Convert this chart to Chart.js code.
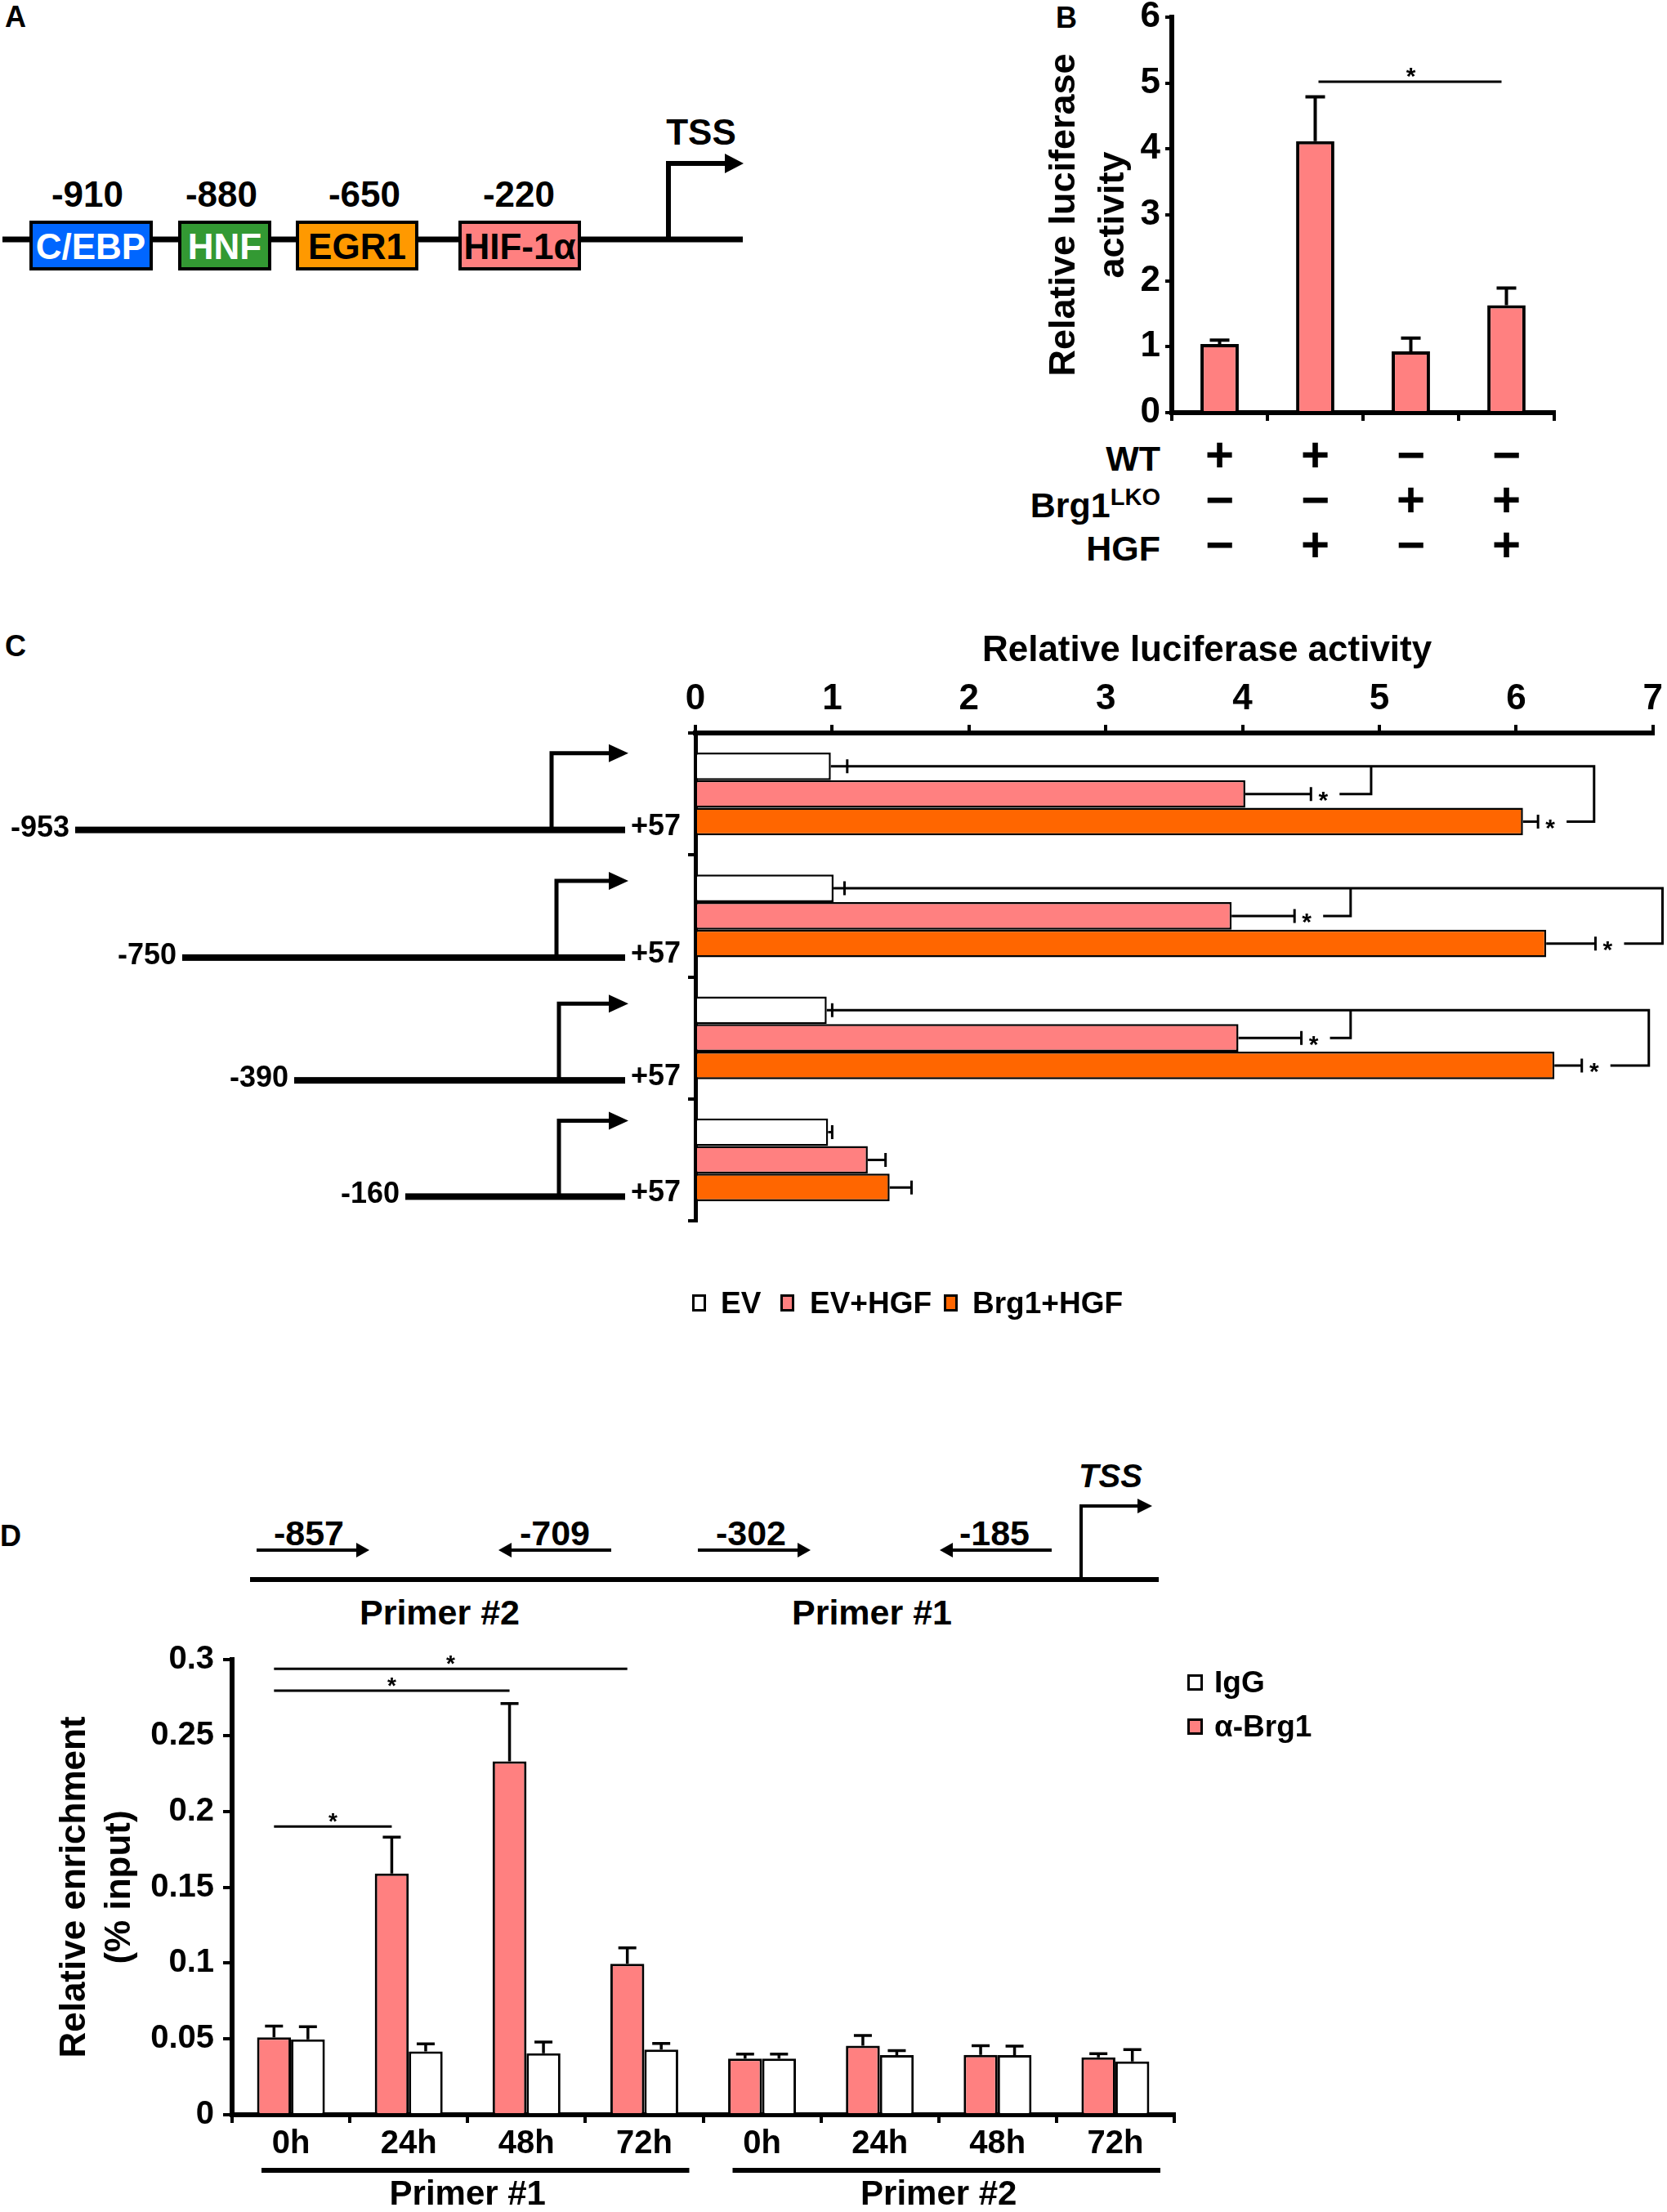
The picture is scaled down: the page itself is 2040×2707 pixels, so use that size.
<!DOCTYPE html>
<html>
<head>
<meta charset="utf-8">
<title>Brg1 / HIF-1α promoter figure</title>
<script src="https://cdn.jsdelivr.net/npm/chart.js@4.4.1/dist/chart.umd.min.js"></script>
<style>
  html, body { margin:0; padding:0; background:#fff; }
  body { position:relative; width:2040px; height:2707px; overflow:hidden;
         font-family:'Liberation Sans', Arial, Helvetica, sans-serif; font-weight:bold; color:#000; }
  canvas, svg, .t, .sw { position:absolute; }
  .t { white-space:nowrap; }
  .sw { border:3px solid #000; box-sizing:border-box; }
</style>
</head>
<body>

<svg id="diagrams" style="left:0;top:0" width="2040" height="2707"
     font-family="'Liberation Sans', Arial, Helvetica, sans-serif" font-weight="bold">
  <!-- panel letters -->
  <text x="6" y="33" font-size="36">A</text>
  <text x="1292" y="34" font-size="36">B</text>
  <text x="6" y="803" font-size="36">C</text>
  <text x="0" y="1892" font-size="36">D</text>

  <!-- Panel A : promoter schematic -->
  <line x1="3" y1="293" x2="909" y2="293" stroke="#000" stroke-width="7"/>
  <rect x="38"  y="272" width="147" height="57" fill="#0066FF" stroke="#000" stroke-width="4"/>
  <rect x="220" y="272" width="110" height="57" fill="#339933" stroke="#000" stroke-width="4"/>
  <rect x="364" y="272" width="146" height="57" fill="#FF9900" stroke="#000" stroke-width="4"/>
  <rect x="563" y="272" width="146" height="57" fill="#FF8080" stroke="#000" stroke-width="4"/>
  <g font-size="44" text-anchor="middle">
    <text x="111" y="317" fill="#fff">C/EBP</text>
    <text x="275" y="317" fill="#fff">HNF</text>
    <text x="437" y="317" fill="#000">EGR1</text>
    <text x="636" y="317" fill="#000">HIF-1α</text>
    <text x="107" y="253">-910</text>
    <text x="271" y="253">-880</text>
    <text x="446" y="253">-650</text>
    <text x="635" y="253">-220</text>
    <text x="858" y="177">TSS</text>
  </g>
  <path d="M818 296 V200 H892" stroke="#000" stroke-width="6" fill="none"/>
  <polygon points="887,188 910,200 887,212" fill="#000"/>

  <!-- Panel D : primer schematic -->
  <line x1="306" y1="1933" x2="1418" y2="1933" stroke="#000" stroke-width="6"/>
  <path d="M1323 1935 V1843 H1395" stroke="#000" stroke-width="4" fill="none"/>
  <polygon points="1392,1834 1410,1843 1392,1852" fill="#000"/>
  <text x="1359" y="1820" font-size="40" font-style="italic" text-anchor="middle">TSS</text>
  <g stroke="#000" stroke-width="4">
    <line x1="314" y1="1897" x2="440" y2="1897"/>
    <line x1="748" y1="1897" x2="622" y2="1897"/>
    <line x1="854" y1="1897" x2="980" y2="1897"/>
    <line x1="1287" y1="1897" x2="1162" y2="1897"/>
  </g>
  <g fill="#000">
    <polygon points="436,1888 452,1897 436,1906"/>
    <polygon points="626,1888 610,1897 626,1906"/>
    <polygon points="976,1888 992,1897 976,1906"/>
    <polygon points="1166,1888 1150,1897 1166,1906"/>
  </g>
  <g font-size="43" text-anchor="middle">
    <text x="378" y="1891">-857</text>
    <text x="679" y="1891">-709</text>
    <text x="919" y="1891">-302</text>
    <text x="1217" y="1891">-185</text>
    <text x="538" y="1988">Primer #2</text>
    <text x="1067" y="1988">Primer #1</text>
  </g>
</svg>

<!-- Panel B row labels -->
<div class="t" style="right:620px;top:535px;font-size:43px;line-height:52px;">WT</div>
<div class="t" style="right:620px;top:592px;font-size:43px;line-height:52px;">Brg1<span style="font-size:29px;position:relative;top:-15px;">LKO</span></div>
<div class="t" style="right:620px;top:645px;font-size:43px;line-height:52px;">HGF</div>

<canvas id="chartB" width="890" height="760" style="left:1150px;top:-30px;"></canvas>
<canvas id="chartC" width="2040" height="900" style="left:0px;top:760px;"></canvas>
<canvas id="chartD" width="2040" height="717" style="left:0px;top:1990px;"></canvas>

<div id="legendC"></div>
<div id="legendD"></div>

<script>
// ---------------- DATA ----------------
// Panel B
const bWT   = ['+', '+', '−', '−'];
const bBrg1 = ['−', '−', '+', '+'];
const bHGF  = ['−', '+', '−', '+'];
const bValues = [1.04, 4.12, 0.93, 1.63];
const bErrors = [0.06, 0.67, 0.20, 0.26];
const bYTicks = [0, 1, 2, 3, 4, 5, 6];
const bSig = { from: 1, to: 3, value: 5.02 };

// Panel C
const cConstructs = ['-953', '-750', '-390', '-160'];
const cSeries = ['EV', 'EV+HGF', 'Brg1+HGF'];
const cEV          = [0.99, 1.01, 0.96, 0.97];
const cEVErr       = [0.12, 0.08, 0.04, 0.03];
const cEVHGF       = [4.02, 3.92, 3.97, 1.26];
const cEVHGFErr    = [0.48, 0.46, 0.46, 0.13];
const cBrg1HGF     = [6.05, 6.22, 6.28, 1.42];
const cBrg1HGFErr  = [0.11, 0.36, 0.20, 0.16];
const cXTicks = [0, 1, 2, 3, 4, 5, 6, 7];
const cBrackets = [
  { group: 0, outer: 6.57, inner: 4.94 },
  { group: 1, outer: 7.07, inner: 4.79 },
  { group: 2, outer: 6.97, inner: 4.79 }
];

// Panel D
const dTimes   = ['0h', '24h', '48h', '72h', '0h', '24h', '48h', '72h'];
const dPrimers = ['Primer #1', 'Primer #2'];
const dBrg1    = [0.051, 0.159, 0.233, 0.0995, 0.037, 0.0455, 0.0395, 0.0378];
const dBrg1Err = [0.0075, 0.024, 0.038, 0.0105, 0.003, 0.0067, 0.006, 0.0025];
const dIgG     = [0.0497, 0.0417, 0.0405, 0.043, 0.037, 0.0393, 0.0393, 0.0352];
const dIgGErr  = [0.0083, 0.005, 0.0075, 0.004, 0.003, 0.003, 0.006, 0.0077];
const dYTicks  = [0, 0.05, 0.1, 0.15, 0.2, 0.25, 0.3];
const dSig = [
  { from: 0, to: 1, value: 0.190 },
  { from: 0, to: 2, value: 0.2795 },
  { from: 0, to: 3, value: 0.294 }
];

// ---------------- STYLE ----------------
const PINK = '#FF8080', ORANGE = '#FF6600', BLACK = '#000000', WHITE = '#FFFFFF';
const FONT = "'Liberation Sans', Arial, Helvetica, sans-serif";
Chart.defaults.font.family = FONT;
Chart.defaults.font.weight = 'bold';
Chart.defaults.color = BLACK;
Chart.defaults.animation = false;
Chart.defaults.plugins.legend.display = false;
Chart.defaults.plugins.tooltip.enabled = false;

function drawStar(ctx, x, cy, size) {
  ctx.save();
  ctx.font = `bold ${size}px ${FONT}`;
  ctx.fillStyle = BLACK;
  ctx.textAlign = 'center';
  ctx.textBaseline = 'alphabetic';
  ctx.fillText('*', x, cy + size * 0.58);
  ctx.restore();
}

const errorBarPlugin = {
  id: 'errorBars',
  afterDatasetsDraw(chart, args, opts) {
    const ctx = chart.ctx;
    const horiz = chart.options.indexAxis === 'y';
    const vs = horiz ? chart.scales.x : chart.scales.y;
    chart.data.datasets.forEach((ds, di) => {
      if (!ds.errors) return;
      chart.getDatasetMeta(di).data.forEach((bar, i) => {
        const end = vs.getPixelForValue(ds.data[i] + ds.errors[i]);
        const half = opts.capWidth / 2;
        ctx.save();
        ctx.strokeStyle = BLACK;
        ctx.lineWidth = opts.lineWidth;
        ctx.beginPath();
        if (horiz) {
          ctx.moveTo(bar.x, bar.y); ctx.lineTo(end, bar.y);
          ctx.moveTo(end, bar.y - half); ctx.lineTo(end, bar.y + half);
        } else {
          ctx.moveTo(bar.x, bar.y); ctx.lineTo(bar.x, end);
          ctx.moveTo(bar.x - half, end); ctx.lineTo(bar.x + half, end);
        }
        ctx.stroke();
        ctx.restore();
      });
    });
  }
};

const axisGrid = (tl) => ({ display: true, drawOnChartArea: false, drawTicks: true, tickLength: tl, lineWidth: 4, color: BLACK });

// ---------------- PANEL B ----------------
const bExtras = {
  id: 'bExtras',
  afterDatasetsDraw(chart) {
    const ctx = chart.ctx, ys = chart.scales.y, bars = chart.getDatasetMeta(0).data;
    const y = ys.getPixelForValue(bSig.value);
    ctx.save();
    ctx.strokeStyle = BLACK; ctx.lineWidth = 3;
    ctx.beginPath();
    ctx.moveTo(bars[bSig.from].x + 4, y); ctx.lineTo(bars[bSig.to].x - 6, y);
    ctx.stroke();
    ctx.restore();
    drawStar(ctx, (bars[bSig.from].x + bars[bSig.to].x) / 2, y - 14, 30);
  }
};

new Chart(document.getElementById('chartB'), {
  type: 'bar',
  data: {
    labels: bWT.map((w, i) => [w, bBrg1[i], bHGF[i]]),
    datasets: [{
      label: 'Relative luciferase activity',
      data: bValues, errors: bErrors,
      backgroundColor: PINK, borderColor: BLACK, borderWidth: 4,
      categoryPercentage: 0.40, barPercentage: 1
    }]
  },
  options: {
    responsive: false, animation: false,
    layout: { padding: { left: 0, right: 138, top: 51, bottom: 0 } },
    scales: {
      x: {
        grid: axisGrid(10),
        border: { display: true, width: 6, color: BLACK },
        ticks: { font: { size: 60, weight: 'bold', lineHeight: '55px' }, padding: 18, autoSkip: false, maxRotation: 0 },
        afterFit: s => { s.height = 225; }
      },
      y: {
        min: 0, max: 6,
        afterBuildTicks: s => { s.ticks = bYTicks.map(v => ({ value: v })); },
        grid: axisGrid(8),
        border: { display: true, width: 6, color: BLACK },
        ticks: { font: { size: 44, weight: 'bold' }, padding: 6 },
        title: { display: true, text: ['Relative luciferase', 'activity'],
                 font: { size: 45, weight: 'bold', lineHeight: '60px' }, padding: { top: 123, bottom: 0 } },
        afterFit: s => { s.width = 284; }
      }
    },
    plugins: { errorBars: { lineWidth: 4, capWidth: 24 } }
  },
  plugins: [errorBarPlugin, bExtras]
});

// ---------------- PANEL C ----------------
const cDiagram = {
  startX: [92, 223, 360, 496],
  endX: 765,
  tssX: [675, 681, 684, 684],
  lineDy: [44, 51, 52, 45],
  tssDy: [-50, -43, -42, -48]
};

const cExtras = {
  id: 'cExtras',
  afterDraw(chart) {
    const ctx = chart.ctx, xs = chart.scales.x, ys = chart.scales.y;
    // axis title
    ctx.save();
    ctx.font = `bold 44px ${FONT}`;
    ctx.fillStyle = BLACK; ctx.textAlign = 'center'; ctx.textBaseline = 'middle';
    ctx.fillText('Relative luciferase activity', xs.getPixelForValue(3.74), 37);
    ctx.restore();

    // promoter construct diagrams
    cConstructs.forEach((lab, i) => {
      const yc = ys.getPixelForValue(i);
      const ly = yc + cDiagram.lineDy[i], ty = yc + cDiagram.tssDy[i];
      const sx = cDiagram.startX[i], tx = cDiagram.tssX[i];
      ctx.save();
      ctx.fillStyle = BLACK; ctx.strokeStyle = BLACK;
      ctx.fillRect(sx, ly - 4, cDiagram.endX - sx, 8);
      ctx.lineWidth = 5;
      ctx.beginPath();
      ctx.moveTo(tx, ly); ctx.lineTo(tx, ty); ctx.lineTo(748, ty);
      ctx.stroke();
      ctx.beginPath();
      ctx.moveTo(745, ty - 11); ctx.lineTo(769, ty); ctx.lineTo(745, ty + 11); ctx.closePath();
      ctx.fill();
      ctx.font = `bold 36px ${FONT}`;
      ctx.textBaseline = 'middle';
      ctx.textAlign = 'right';
      ctx.fillText(lab, sx - 7, ly - 2);
      ctx.textAlign = 'left';
      ctx.fillText('+57', 772, ly - 4);
      ctx.restore();
    });

    // significance brackets
    const mEV = chart.getDatasetMeta(0).data, mH = chart.getDatasetMeta(1).data, mB = chart.getDatasetMeta(2).data;
    cBrackets.forEach(br => {
      const g = br.group;
      const topY = mEV[g].y;
      const evEnd = xs.getPixelForValue(cEV[g] + cEVErr[g]);
      const ox = xs.getPixelForValue(br.outer), ix = xs.getPixelForValue(br.inner);
      const starB = xs.getPixelForValue(cBrg1HGF[g] + cBrg1HGFErr[g]) + 15;
      const starH = xs.getPixelForValue(cEVHGF[g] + cEVHGFErr[g]) + 15;
      ctx.save();
      ctx.strokeStyle = BLACK; ctx.lineWidth = 3;
      ctx.beginPath();
      ctx.moveTo(evEnd, topY); ctx.lineTo(ox, topY); ctx.lineTo(ox, mB[g].y); ctx.lineTo(starB + 20, mB[g].y);
      ctx.moveTo(ix, topY); ctx.lineTo(ix, mH[g].y); ctx.lineTo(starH + 20, mH[g].y);
      ctx.stroke();
      ctx.restore();
      drawStar(ctx, starB, mB[g].y, 30);
      drawStar(ctx, starH, mH[g].y, 30);
    });
  }
};

const cColors = [WHITE, PINK, ORANGE];
const cData = [cEV, cEVHGF, cBrg1HGF];
const cErr = [cEVErr, cEVHGFErr, cBrg1HGFErr];

new Chart(document.getElementById('chartC'), {
  type: 'bar',
  data: {
    labels: cConstructs,
    datasets: cSeries.map((name, k) => ({
      label: name, data: cData[k], errors: cErr[k],
      backgroundColor: cColors[k], borderColor: BLACK, borderWidth: 2.5,
      categoryPercentage: 0.68, barPercentage: 1
    }))
  },
  options: {
    indexAxis: 'y',
    responsive: false, animation: false,
    layout: { padding: { left: 0, right: 17, top: 0, bottom: 166 } },
    scales: {
      x: {
        position: 'top', min: 0, max: 7,
        afterBuildTicks: s => { s.ticks = cXTicks.map(v => ({ value: v })); },
        grid: axisGrid(10),
        border: { display: true, width: 6, color: BLACK },
        ticks: { font: { size: 44, weight: 'bold' }, padding: 5 },
        afterFit: s => { s.height = 137; }
      },
      y: {
        ticks: { display: false },
        grid: Object.assign(axisGrid(9), { offset: true }),
        border: { display: true, width: 5, color: BLACK },
        afterFit: s => { s.width = 851; }
      }
    },
    plugins: { errorBars: { lineWidth: 3, capWidth: 17 } }
  },
  plugins: [errorBarPlugin, cExtras]
});

// ---------------- PANEL D ----------------
const dExtras = {
  id: 'dExtras',
  afterDraw(chart) {
    const ctx = chart.ctx, xs = chart.scales.x, ys = chart.scales.y;
    const pink = chart.getDatasetMeta(0).data;
    // significance lines
    dSig.forEach(s => {
      const y = ys.getPixelForValue(s.value);
      const x0 = pink[s.from].x, x1 = pink[s.to].x;
      ctx.save();
      ctx.strokeStyle = BLACK; ctx.lineWidth = 3;
      ctx.beginPath(); ctx.moveTo(x0, y); ctx.lineTo(x1, y); ctx.stroke();
      ctx.restore();
      drawStar(ctx, (x0 + x1) / 2, y - 13, 28);
    });
    // primer group underline and labels
    const w = xs.getPixelForValue(1) - xs.getPixelForValue(0);
    const bottom = chart.chartArea.bottom;
    dPrimers.forEach((p, g) => {
      const left = xs.getPixelForValue(g * 4) - w / 2;
      const right = xs.getPixelForValue(g * 4 + 3) + w / 2;
      ctx.save();
      ctx.fillStyle = BLACK;
      ctx.fillRect(left + 36, bottom + 65, right - left - 53, 6);
      ctx.font = `bold 42px ${FONT}`;
      ctx.textAlign = 'center'; ctx.textBaseline = 'middle';
      ctx.fillText(p, (left + right) / 2, bottom + 98);
      ctx.restore();
    });
  }
};

const dSeries = [
  { label: 'α-Brg1', data: dBrg1, errors: dBrg1Err, color: PINK },
  { label: 'IgG', data: dIgG, errors: dIgGErr, color: WHITE }
];

new Chart(document.getElementById('chartD'), {
  type: 'bar',
  data: {
    labels: dTimes,
    datasets: dSeries.map(s => ({
      label: s.label, data: s.data, errors: s.errors,
      backgroundColor: s.color, borderColor: BLACK, borderWidth: 3,
      categoryPercentage: 0.576, barPercentage: 1
    }))
  },
  options: {
    responsive: false, animation: false,
    layout: { padding: { left: 0, right: 603, top: 41, bottom: 0 } },
    scales: {
      x: {
        grid: axisGrid(10),
        border: { display: true, width: 6, color: BLACK },
        ticks: { font: { size: 40, weight: 'bold' }, padding: 2, autoSkip: false, maxRotation: 0 },
        afterFit: s => { s.height = 119; }
      },
      y: {
        min: 0, max: 0.3,
        afterBuildTicks: s => { s.ticks = dYTicks.map(v => ({ value: v })); },
        grid: axisGrid(11),
        border: { display: true, width: 6, color: BLACK },
        ticks: { font: { size: 40, weight: 'bold' }, padding: 11, callback: v => String(+Number(v).toFixed(2)) },
        title: { display: true, text: ['Relative enrichment', '(% input)'],
                 font: { size: 44, weight: 'bold', lineHeight: '55px' }, padding: { top: 64, bottom: 0 } },
        afterFit: s => { s.width = 284; }
      }
    },
    plugins: { errorBars: { lineWidth: 3.5, capWidth: 22 } }
  },
  plugins: [errorBarPlugin, dExtras]
});

// ---------------- HTML legends ----------------
function addSwatch(parent, left, top, w, h, color) {
  const d = document.createElement('div');
  d.className = 'sw';
  d.style.cssText = `left:${left}px;top:${top}px;width:${w}px;height:${h}px;background:${color};`;
  parent.appendChild(d);
}
function addText(parent, left, centerY, size, text) {
  const d = document.createElement('div');
  d.className = 't';
  d.style.cssText = `left:${left}px;top:${centerY - 25}px;font-size:${size}px;line-height:50px;`;
  d.textContent = text;
  parent.appendChild(d);
}
const legC = document.getElementById('legendC');
const cLegendX = [[847, 882], [955, 991], [1155, 1190]];
cSeries.forEach((name, k) => {
  addSwatch(legC, cLegendX[k][0], 1584, 17, 21, cColors[k]);
  addText(legC, cLegendX[k][1], 1595, 37, name);
});
const legD = document.getElementById('legendD');
const dLegendOrder = [1, 0];
dLegendOrder.forEach((k, row) => {
  const cy = 2059 + row * 54;
  addSwatch(legD, 1453, cy - 10, 19, 20, dSeries[k].color);
  addText(legD, 1486, cy, 37, dSeries[k].label);
});
</script>
</body>
</html>
